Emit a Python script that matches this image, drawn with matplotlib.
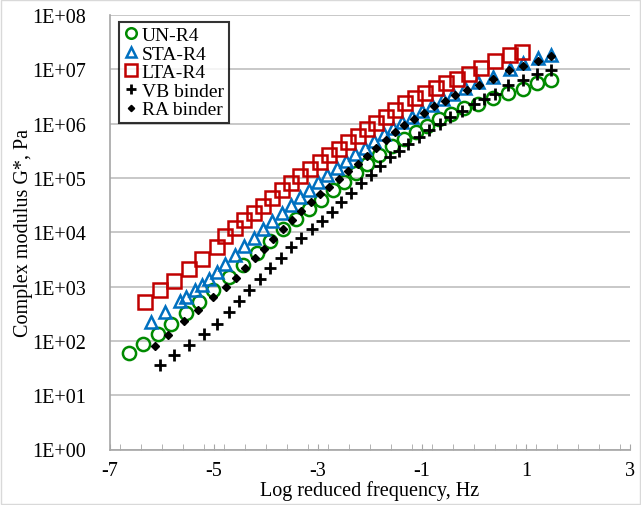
import numpy as np
import matplotlib
matplotlib.use("Agg")
import matplotlib.pyplot as plt
from matplotlib.ticker import FixedLocator, MultipleLocator, FuncFormatter

plt.rcParams["font.family"] = ["Liberation Serif", "DejaVu Serif"]

# log reduced frequency (Hz) and log10(G*)
un_x = [-6.63, -6.36, -6.07, -5.83, -5.54, -5.28, -5.01, -4.72, -4.45, -4.18, -3.93,
        -3.67, -3.42, -3.18, -2.95, -2.72, -2.50, -2.27, -2.05, -1.82, -1.58, -1.35,
        -1.12, -0.90, -0.68, -0.45, -0.20, 0.08, 0.36, 0.65, 0.95, 1.22, 1.49]
un_lg = [1.78, 1.94, 2.13, 2.31, 2.52, 2.72, 2.94, 3.18, 3.40, 3.62, 3.84,
         4.06, 4.25, 4.43, 4.60, 4.77, 4.93, 5.10, 5.26, 5.42, 5.58, 5.72,
         5.84, 5.96, 6.08, 6.18, 6.28, 6.37, 6.47, 6.56, 6.64, 6.74, 6.81]

sta_x = [-6.22, -5.94, -5.65, -5.53, -5.37, -5.24, -5.09, -4.95, -4.79, -4.60, -4.42,
         -4.24, -4.06, -3.88, -3.70, -3.52, -3.34, -3.17, -3.00, -2.82, -2.64, -2.46,
         -2.28, -2.10, -1.92, -1.74, -1.56, -1.38, -1.20, -1.00, -0.80, -0.60, -0.40,
         -0.18, 0.08, 0.37, 0.69, 0.95, 1.24, 1.49]
sta_lg = [2.34, 2.53, 2.74, 2.81, 2.93, 3.02, 3.14, 3.27, 3.42, 3.58, 3.74,
          3.90, 4.06, 4.21, 4.36, 4.50, 4.64, 4.78, 4.92, 5.05, 5.18, 5.31,
          5.44, 5.56, 5.68, 5.80, 5.92, 6.03, 6.13, 6.24, 6.35, 6.45, 6.55,
          6.65, 6.76, 6.86, 7.01, 7.11, 7.20, 7.27]

lta_x = [-6.33, -6.04, -5.77, -5.49, -5.24, -4.95, -4.79, -4.60, -4.42, -4.24, -4.06,
         -3.88, -3.70, -3.52, -3.34, -3.15, -2.96, -2.78, -2.60, -2.42, -2.24, -2.06,
         -1.88, -1.70, -1.52, -1.33, -1.14, -0.94, -0.74, -0.54, -0.32, -0.10, 0.14,
         0.40, 0.69, 0.92]
lta_lg = [2.71, 2.93, 3.11, 3.33, 3.51, 3.73, 3.94, 4.08, 4.22, 4.35, 4.49,
          4.63, 4.77, 4.90, 5.03, 5.17, 5.30, 5.42, 5.54, 5.66, 5.78, 5.90,
          6.02, 6.13, 6.25, 6.38, 6.47, 6.56, 6.65, 6.74, 6.83, 6.92, 7.03,
          7.15, 7.26, 7.32]

vb_x = [-6.04, -5.76, -5.48, -5.19, -4.94, -4.72, -4.52, -4.32, -4.12, -3.92, -3.72,
        -3.52, -3.32, -3.12, -2.93, -2.74, -2.55, -2.36, -2.17, -1.98, -1.80, -1.62,
        -1.44, -1.26, -1.06, -0.86, -0.66, -0.46, -0.24, 0.00, 0.20, 0.40, 0.66,
        0.95, 1.22, 1.48]
vb_lg = [1.56, 1.74, 1.93, 2.13, 2.31, 2.53, 2.74, 2.94, 3.14, 3.34, 3.53,
         3.72, 3.90, 4.06, 4.20, 4.38, 4.55, 4.72, 4.90, 5.06, 5.22, 5.38,
         5.50, 5.62, 5.75, 5.88, 6.00, 6.12, 6.24, 6.36, 6.46, 6.55, 6.71,
         6.80, 6.92, 6.98]

ra_x = [-6.13, -5.88, -5.58, -5.30, -5.01, -4.76, -4.58, -4.40, -4.22, -4.04, -3.86,
        -3.68, -3.50, -3.32, -3.14, -2.96, -2.78, -2.60, -2.42, -2.24, -2.06, -1.88,
        -1.70, -1.52, -1.34, -1.16, -0.96, -0.76, -0.56, -0.36, -0.14, 0.10, 0.37,
        0.68, 0.95, 1.24, 1.48]
ra_lg = [1.91, 2.11, 2.36, 2.56, 2.81, 2.99, 3.16, 3.34, 3.52, 3.70, 3.88,
         4.06, 4.22, 4.40, 4.56, 4.70, 4.84, 4.98, 5.12, 5.26, 5.40, 5.55,
         5.70, 5.85, 5.98, 6.09, 6.20, 6.32, 6.42, 6.52, 6.62, 6.72, 6.83,
         6.98, 7.07, 7.16, 7.24]

x_ticks = [-7, -5, -3, -1, 1, 3]

fig = plt.figure(figsize=(6.41, 5.06), dpi=100)
ax = fig.add_axes([110 / 641, 1 - 450.5 / 506, 520 / 641, 434.5 / 506])

green, blue, red = "#008A00", "#0070C0", "#C00000"
ax.plot(un_x, 10 ** np.array(un_lg), "o", ls="none", mfc="none", mec=green, mew=1.8, ms=9.5, label="UN-R4")
ax.plot(sta_x, 10 ** np.array(sta_lg), "^", ls="none", mfc="none", mec=blue, mew=1.8, ms=9, label="STA-R4")
ax.plot(lta_x, 10 ** np.array(lta_lg), "s", ls="none", mfc="none", mec=red, mew=1.8, ms=10, label="LTA-R4")
ax.plot(vb_x, 10 ** np.array(vb_lg), "+", ls="none", color="black", mew=2, ms=9, label="VB binder")
ax.plot(ra_x, 10 ** np.array(ra_lg), "D", ls="none", color="black", ms=4, label="RA binder")

ax.set_yscale("log")
ax.set_ylim(1, 1e8)
ax.set_xlim(-7, 3)
ax.yaxis.set_major_locator(FixedLocator([10.0 ** k for k in range(9)]))
ax.yaxis.set_minor_locator(FixedLocator([]))
ax.yaxis.set_major_formatter(FuncFormatter(lambda v, p: "1E+%02d" % round(np.log10(v))))
ax.xaxis.set_major_locator(FixedLocator(x_ticks))
ax.xaxis.set_minor_locator(MultipleLocator(0.4))
ax.xaxis.set_major_formatter(FuncFormatter(lambda v, p: "%d" % round(v)))

ax.grid(axis="y", color="#BFBFBF", lw=1.2)
ax.set_axisbelow(True)
for s in ["top", "right"]:
    ax.spines[s].set_visible(False)
for s in ["left", "bottom"]:
    ax.spines[s].set_color("#A6A6A6")
    ax.spines[s].set_linewidth(1.2)
ax.tick_params(axis="y", length=0, labelsize=14.5, pad=17)
ax.tick_params(axis="x", which="both", direction="in", length=4, color="#A6A6A6", labelsize=14.5, pad=8)

ax.set_xlabel("Log reduced frequency, Hz", fontsize=14.5, labelpad=0)
ax.set_ylabel("Complex modulus G*, Pa", fontsize=14.5, labelpad=0)

leg = ax.legend(loc="upper left", bbox_to_anchor=(0.018, 0.985), fontsize=14, frameon=True,
                fancybox=False, edgecolor="black", handlelength=0.7, handletextpad=0.2,
                labelspacing=0.05, borderpad=0.25, borderaxespad=0.0, markerscale=0.8)
leg.get_frame().set_linewidth(1.5)

fig.patches.append(plt.Rectangle((0.001, 0.001), 0.998, 0.998, transform=fig.transFigure,
                                 fill=False, ec="#D9D9D9", lw=1))

fig.savefig("out.png", dpi=100)
